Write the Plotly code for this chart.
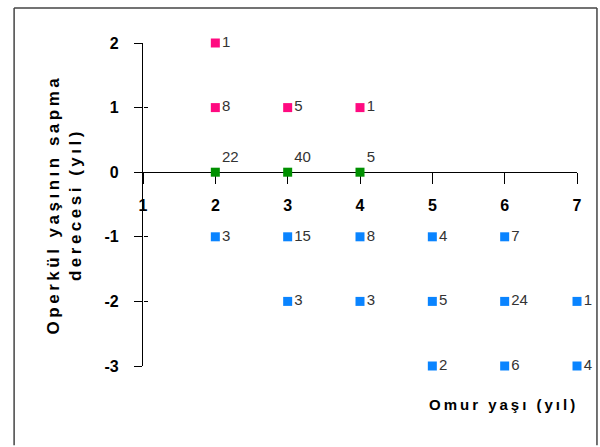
import plotly.graph_objects as go

# Positive deviation (pink)
pos_x = [2, 2, 3, 4]
pos_y = [2, 1, 1, 1]
pos_n = ["1", "8", "5", "1"]

# Zero deviation (green)
zero_x = [2, 3, 4]
zero_y = [0, 0, 0]
zero_n = ["22", "40", "5"]

# Negative deviation (blue)
neg_x = [2, 3, 4, 5, 6, 3, 4, 5, 6, 7, 5, 6, 7]
neg_y = [-1, -1, -1, -1, -1, -2, -2, -2, -2, -2, -3, -3, -3]
neg_n = ["3", "15", "8", "4", "7", "3", "3", "5", "24", "1", "2", "6", "4"]

x_ticks = [1, 2, 3, 4, 5, 6, 7]
x_tick_labels = ["1", "2", "3", "4", "5", "6", "7"]
y_ticks = [-3, -2, -1, 0, 1, 2]
y_tick_labels = ["-3", "-2", "-1", "0", "1", "2"]

label_font = dict(family="Liberation Sans, Arial", size=15, color="#333333")
tick_font = dict(family="Liberation Sans, Arial", size=16, color="#000000", weight="bold")

fig = go.Figure()
fig.add_trace(go.Scatter(x=pos_x, y=pos_y, mode="markers+text", text=pos_n,
                         textposition="middle right", textfont=label_font,
                         marker=dict(symbol="square", size=9, color="#FF0A80"),
                         cliponaxis=False, showlegend=False))
fig.add_trace(go.Scatter(x=zero_x, y=zero_y, mode="markers+text", text=zero_n,
                         textposition="top right", textfont=label_font,
                         marker=dict(symbol="square", size=9, color="#009000"),
                         cliponaxis=False, showlegend=False))
fig.add_trace(go.Scatter(x=neg_x, y=neg_y, mode="markers+text", text=neg_n,
                         textposition="middle right", textfont=label_font,
                         marker=dict(symbol="square", size=9, color="#0A84FF"),
                         cliponaxis=False, showlegend=False))
# empty trace to create an overlay axis for cross ticks on y
fig.add_trace(go.Scatter(x=[], y=[], xaxis="x2", yaxis="y2", showlegend=False))

y0_pos = (0 - min(y_ticks)) / (max(y_ticks) - min(y_ticks))

border = dict(color="#444", width=1.5)
bx0, bx1, by0, by1 = -0.297, 1.046, -0.245, 1.108

fig.update_layout(
    width=600, height=447,
    margin=dict(l=143, r=23, t=43, b=81),
    paper_bgcolor="white", plot_bgcolor="white",
    xaxis=dict(range=[1, 7], tickvals=x_ticks, ticktext=x_tick_labels,
               ticks="outside", ticklen=11,
               tickwidth=1.3, tickcolor="#000", showline=True, linecolor="#000",
               linewidth=1.3, showgrid=False, zeroline=False, layer="below traces",
               anchor="free", position=y0_pos, tickfont=tick_font,
               ticklabelstandoff=7),
    yaxis=dict(range=[-3, 2], tickvals=y_ticks, ticktext=y_tick_labels,
               ticks="outside", ticklen=8,
               tickwidth=1.3, tickcolor="#000", showline=True, linecolor="#000",
               linewidth=1.3, showgrid=False, zeroline=False, layer="below traces",
               tickfont=tick_font, ticklabelstandoff=12),
    xaxis2=dict(range=[1, 7], showticklabels=False, ticks="",
                showline=False, showgrid=False, zeroline=False,
                overlaying="x", anchor="free", position=y0_pos),
    yaxis2=dict(range=[-3, 2], tickvals=y_ticks, ticks="inside", ticklen=4,
                tickwidth=1.3, tickcolor="#000", showticklabels=False,
                showline=False, showgrid=False, zeroline=False, layer="below traces",
                overlaying="y", anchor="free", position=0),
    annotations=[
        dict(text='<span style="letter-spacing:3.5px">Operkül yaşının sapma<br>derecesi (yıl)</span>',
             xref="paper", yref="paper", x=-0.18, y=0.5, textangle=-90,
             showarrow=False, xanchor="center", yanchor="middle",
             font=dict(family="Liberation Sans, Arial", size=17, color="#000", weight="bold")),
        dict(text='<span style="letter-spacing:3px">Omur yaşı (yıl)</span>',
             xref="paper", yref="paper", x=0.83, y=-0.12,
             showarrow=False, xanchor="center", yanchor="middle",
             font=dict(family="Liberation Sans, Arial", size=15, color="#000", weight="bold")),
    ],
    shapes=[
        dict(type="line", xref="paper", yref="paper", x0=bx0, x1=bx0, y0=by0, y1=by1, line=border),
        dict(type="line", xref="paper", yref="paper", x0=bx0, x1=bx1, y0=by1, y1=by1, line=border),
        dict(type="line", xref="paper", yref="paper", x0=bx1, x1=bx1, y0=by0, y1=by1, line=border),
    ],
)

fig.write_html("out.html", config={"displayModeBar": False},
               post_script="document.body.style.margin='0px';document.body.style.overflow='hidden';")
